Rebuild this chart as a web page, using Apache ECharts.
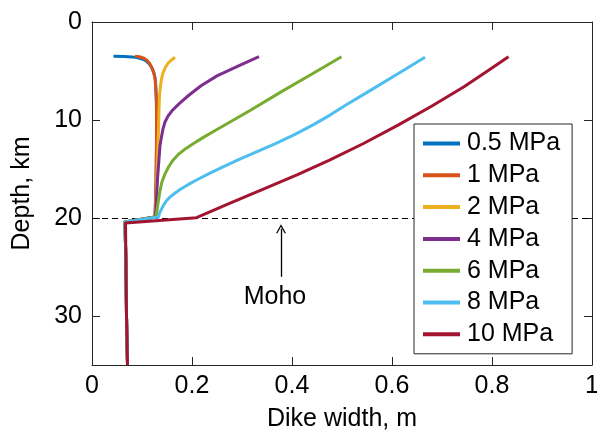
<!DOCTYPE html>
<html>
<head>
<meta charset="utf-8">
<script src="https://cdn.jsdelivr.net/npm/echarts@6/dist/echarts.min.js"></script>
<style>
html,body{margin:0;padding:0;background:#fff;}
#c{width:597px;height:436px;}
</style>
</head>
<body>
<div id="c"></div>
<script>
// ---- data ----
const seriesNames = ['0.5 MPa', '1 MPa', '2 MPa', '4 MPa', '6 MPa', '8 MPa', '10 MPa'];
const seriesColors = ['#0072BD', '#D95319', '#EDB120', '#7E2F8E', '#77AC30', '#4DBEEE', '#A2142F'];

const depth05 = [3.5, 3.52, 3.56, 3.65, 3.8, 4.0, 4.3, 4.7, 5.2, 6.0, 7.0, 9, 13, 17, 19.9, 20.4, 25, 30, 35];
const width05 = [0.043, 0.065, 0.080, 0.092, 0.102, 0.109, 0.115, 0.120, 0.124, 0.127, 0.128, 0.129, 0.129, 0.128, 0.126, 0.066, 0.068, 0.069, 0.071];

const depth1 = [3.5, 3.55, 3.7, 3.9, 4.2, 4.6, 5.1, 5.7, 6.5, 8, 12, 16, 19.9, 20.4, 25, 30, 35];
const width1 = [0.086, 0.095, 0.104, 0.110, 0.115, 0.119, 0.123, 0.126, 0.127, 0.129, 0.129, 0.128, 0.126, 0.066, 0.068, 0.069, 0.071];

const depth2 = [3.6, 3.85, 4.2, 4.7, 5.2, 5.8, 6.5, 7.5, 9, 11, 14, 17, 19.9, 20.4, 25, 30, 35];
const width2 = [0.166, 0.160, 0.152, 0.146, 0.142, 0.139, 0.137, 0.135, 0.134, 0.133, 0.131, 0.129, 0.127, 0.066, 0.068, 0.069, 0.071];

const depth4 = [3.54, 4.5, 5.5, 6.5, 7.5, 8.3, 9.0, 9.6, 10.2, 10.9, 11.7, 12.6, 14, 16, 18, 19.9, 20.4, 25, 30, 35];
const width4 = [0.334, 0.292, 0.250, 0.218, 0.193, 0.175, 0.161, 0.152, 0.146, 0.142, 0.139, 0.136, 0.134, 0.131, 0.129, 0.127, 0.066, 0.068, 0.069, 0.071];

const depth6 = [3.54, 5.3, 7.1, 9.0, 10.0, 11.0, 11.8, 12.4, 12.9, 13.5, 14.1, 14.8, 15.5, 16.3, 17.2, 18.5, 19.9, 20.4, 25, 30, 35];
const width6 = [0.499, 0.440, 0.379, 0.317, 0.283, 0.249, 0.222, 0.203, 0.188, 0.173, 0.162, 0.153, 0.146, 0.140, 0.136, 0.132, 0.128, 0.066, 0.068, 0.069, 0.071];

const depth8 = [3.6, 5.3, 7.0, 8.5, 9.5, 10.5, 11.5, 12.4, 13.4, 14.1, 14.8, 15.5, 16.1, 16.6, 17.1, 17.5, 17.9, 18.3, 18.7, 19.1, 19.5, 19.9, 20.4, 25, 30, 35];
const width8 = [0.666, 0.611, 0.556, 0.507, 0.476, 0.442, 0.405, 0.367, 0.322, 0.291, 0.261, 0.233, 0.210, 0.192, 0.176, 0.165, 0.155, 0.148, 0.143, 0.139, 0.135, 0.133, 0.066, 0.068, 0.069, 0.071];

const depth10 = [3.54, 5.0, 6.6, 8.6, 10.5, 12.4, 14.1, 15.6, 17.0, 18.5, 19.97, 20.5, 25, 30, 35];
const width10 = [0.833, 0.791, 0.744, 0.679, 0.613, 0.543, 0.475, 0.410, 0.345, 0.275, 0.209, 0.067, 0.068, 0.069, 0.071];

const xTicks = [0, 0.2, 0.4, 0.6, 0.8, 1];
const yTicks = [0, 10, 20, 30];
const mohoDepth = 20;
const mohoLabel = 'Moho';
const arrowX = 0.378, arrowFrom = 26.0, arrowTo = 21.1;
const mohoTextX = 0.366, mohoTextY = 28.1;

// ---- chart ----
const depths = [depth05, depth1, depth2, depth4, depth6, depth8, depth10];
const widths = [width05, width1, width2, width4, width6, width8, width10];
const FONT = "'Liberation Sans', Arial, Helvetica, sans-serif";
const AX = '#262626';

const series = seriesNames.map((name, i) => ({
  name, type: 'line', showSymbol: false, symbol: 'none',
  smooth: false,
  data: widths[i].map((w, k) => [w, depths[i][k]]),
  lineStyle: { color: seriesColors[i], width: 3, join: 'round' },
  itemStyle: { color: seriesColors[i] },
  z: 3
}));

series.push({
  name: '__annot', type: 'line', data: [], symbol: 'none',
  markLine: {
    silent: true, z: 1, symbol: ['none', 'none'],
    label: { show: false },
    lineStyle: { color: '#000', type: [6, 4], width: 1 },
    data: [{ yAxis: mohoDepth }]
  }
});
series.push({
  name: '__arrow', type: 'line', data: [], symbol: 'none',
  markLine: {
    silent: true, z: 4,
    symbol: ['none', 'path://M0,10 L5,0 L10,10 L8.6,10 L5,2.8 L1.4,10 Z'],
    symbolSize: [10, 9],
    label: { show: false },
    lineStyle: { color: '#000', type: 'solid', width: 1.3 },
    data: [[{ coord: [arrowX, arrowFrom] }, { coord: [arrowX, arrowTo] }]]
  },
  markPoint: {
    silent: true, symbol: 'circle', symbolSize: 0,
    label: { show: true, position: 'inside', formatter: mohoLabel, color: '#000', fontSize: 25, fontFamily: FONT },
    data: [{ coord: [mohoTextX, mohoTextY] }]
  }
});

const axisLineCfg = { show: true, onZero: false, lineStyle: { color: AX, width: 1 } };
const tickCfg = { show: true, inside: true, length: 8, lineStyle: { color: AX } };

const chart = echarts.init(document.getElementById('c'), null, { renderer: 'canvas' });
chart.setOption({
  animation: false,
  backgroundColor: '#fff',
  grid: { left: 92, top: 22, right: 5, bottom: 71, containLabel: false, outerBoundsMode: 'none' },
  legend: {
    data: seriesNames,
    orient: 'vertical', left: 414, top: 124,
    backgroundColor: '#fff', borderColor: AX, borderWidth: 1,
    padding: [7, 12, 7, 9],
    itemGap: 6.8, itemWidth: 37, itemHeight: 4, icon: 'rect',
    textStyle: { fontSize: 25, fontFamily: FONT, color: '#000', lineHeight: 25, padding: [0, 0, 0, 2] }
  },
  xAxis: [{
    type: 'value', min: xTicks[0], max: xTicks[xTicks.length - 1], interval: 0.2, position: 'bottom',
    name: 'Dike width, m', nameLocation: 'middle', nameGap: 42,
    nameTextStyle: { fontSize: 25, fontFamily: FONT, color: '#000' },
    axisLine: axisLineCfg, axisTick: tickCfg,
    axisLabel: { fontSize: 25, fontFamily: FONT, color: '#000', margin: 9 },
    splitLine: { show: false }
  }, {
    type: 'value', min: xTicks[0], max: xTicks[xTicks.length - 1], interval: 0.2, position: 'top',
    axisLine: axisLineCfg, axisTick: tickCfg,
    axisLabel: { show: false }, splitLine: { show: false }
  }],
  yAxis: [{
    type: 'value', inverse: true, min: 0, max: 35, interval: 10, position: 'left',
    name: 'Depth, km', nameLocation: 'middle', nameGap: 57,
    nameTextStyle: { fontSize: 25, fontFamily: FONT, color: '#000' },
    axisLine: axisLineCfg, axisTick: tickCfg,
    axisLabel: { fontSize: 25, fontFamily: FONT, color: '#000', margin: 10, showMaxLabel: false,
      formatter: v => (yTicks.indexOf(v) >= 0 ? String(v) : '') },
    splitLine: { show: false }
  }, {
    type: 'value', inverse: true, min: 0, max: 35, interval: 10, position: 'right',
    axisLine: axisLineCfg, axisTick: tickCfg,
    axisLabel: { show: false }, splitLine: { show: false }
  }],
  series
});
</script>
</body>
</html>
